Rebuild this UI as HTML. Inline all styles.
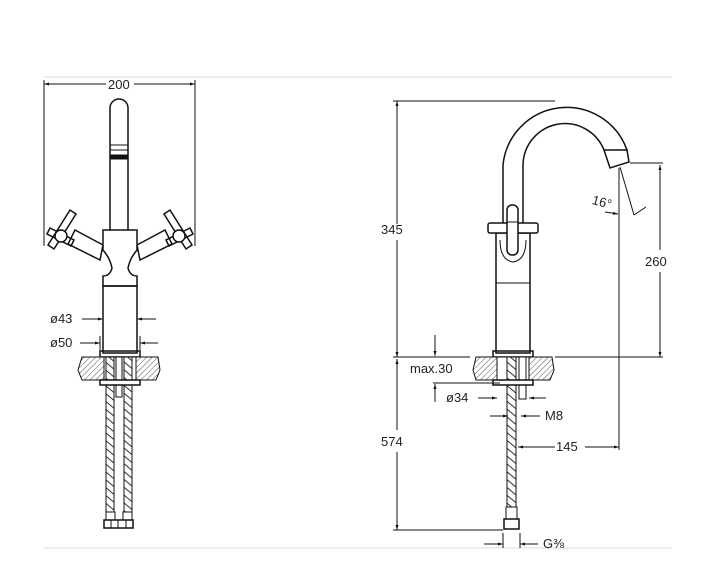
<!DOCTYPE html>
<html><head><style>
body{margin:0;background:#fff}
svg{display:block}
text{font-family:"Liberation Sans",sans-serif;font-size:13px;fill:#222}
</style></head><body>
<svg width="709" height="583" viewBox="0 0 709 583">
<defs>
<pattern id="h" width="4" height="4" patternUnits="userSpaceOnUse" patternTransform="rotate(45)">
<rect width="4" height="4" fill="#fff"/><line x1="0" y1="0" x2="0" y2="4" stroke="#555" stroke-width="1"/></pattern>
<pattern id="tw" width="6" height="6" patternUnits="userSpaceOnUse" patternTransform="rotate(-50)">
<rect width="6" height="6" fill="#fff"/><line x1="0" y1="0" x2="0" y2="6" stroke="#333" stroke-width="2"/></pattern>
<marker id="a" viewBox="0 0 10 10" refX="10" refY="5" markerWidth="7" markerHeight="5" orient="auto-start-reverse"><path d="M0,2 L10,5 L0,8z" fill="#111"/></marker>
</defs>
<line x1="44" y1="77" x2="672" y2="77" stroke="#ddd"/>
<line x1="44" y1="548" x2="672" y2="548" stroke="#ddd"/>
<g stroke="#111" fill="none" stroke-width="1">
<!-- LEFT -->
<line x1="44" y1="84" x2="106" y2="84" marker-start="url(#a)"/>
<line x1="134" y1="84" x2="195" y2="84" marker-end="url(#a)"/>
<line x1="44" y1="80" x2="44" y2="246"/><line x1="195" y1="80" x2="195" y2="246"/>
<path d="M110,232 V108 A9,9 0 0 1 128,108 V232" stroke-width="1.5"/>
<line x1="110" y1="145" x2="128" y2="145"/><line x1="110" y1="150" x2="128" y2="150"/>
<rect x="110" y="155" width="18" height="4" fill="#111"/>
<path d="M103,245 L75,230 L68,244 L100,260 Z" stroke-width="1.5" fill="#fff"/>
<path d="M137,245 L165,230 L172,244 L140,260 Z" stroke-width="1.5" fill="#fff"/>
<path d="M103,230 H137 V250 Q130,258 128,268 Q130,276 137,276 V286 H103 V276 Q110,276 112,268 Q110,258 103,250 Z" stroke-width="1.5" fill="#fff"/>
<rect x="103" y="286" width="34" height="67" stroke-width="1.5"/>
<path d="M48,245 L70,210 L76,214 L54,249 Z" stroke-width="1.5"/>
<path d="M50,228 L74,240 L71,246 L47,234 Z" stroke-width="1.5"/>
<circle cx="61" cy="236" r="6" fill="#fff" stroke-width="1.5"/>
<path d="M192,245 L170,210 L164,214 L186,249 Z" stroke-width="1.5"/>
<path d="M190,228 L166,240 L169,246 L193,234 Z" stroke-width="1.5"/>
<circle cx="179" cy="236" r="6" fill="#fff" stroke-width="1.5"/>
<rect x="100" y="351" width="40" height="6" stroke-width="1.5"/>
<path d="M82,357 H158 L160,370 L156,380 H82 L78,370 Z" fill="url(#h)"/>
<rect x="104" y="357" width="32" height="23" fill="#fff"/>
<rect x="106" y="357" width="8" height="155" fill="url(#tw)"/>
<rect x="124" y="357" width="8" height="155" fill="url(#tw)"/>
<rect x="116" y="357" width="6" height="40"/>
<rect x="100" y="380" width="40" height="5" fill="#fff" stroke-width="1.5"/>
<rect x="106" y="512" width="9" height="8"/><rect x="123" y="512" width="9" height="8"/>
<rect x="104" y="520" width="29" height="8" stroke-width="1.5"/>
<line x1="111" y1="520" x2="111" y2="528"/><line x1="118" y1="520" x2="118" y2="528"/><line x1="126" y1="520" x2="126" y2="528"/>
<line x1="82" y1="319" x2="103" y2="319" marker-end="url(#a)"/>
<line x1="156" y1="319" x2="137" y2="319" marker-end="url(#a)"/>
<line x1="80" y1="343" x2="100" y2="343" marker-end="url(#a)"/>
<line x1="158" y1="343" x2="140" y2="343" marker-end="url(#a)"/>
<line x1="100" y1="336" x2="100" y2="350"/><line x1="140" y1="336" x2="140" y2="350"/>
<!-- RIGHT -->
<line x1="393" y1="101" x2="555" y2="101"/>
<line x1="397" y1="101" x2="397" y2="224" marker-start="url(#a)"/>
<line x1="397" y1="240" x2="397" y2="357" marker-end="url(#a)"/>
<line x1="393" y1="357" x2="470" y2="357"/><line x1="555" y1="357" x2="663" y2="357"/>
<path d="M503,233 V165 A64,64 0 0 1 627,150" stroke-width="1.5"/>
<path d="M523,233 V165 A42,42 0 0 1 604,150" stroke-width="1.5"/>
<path d="M604,150 L627,150 L629,162 L610,168 Z" stroke-width="1.5" fill="#fff"/>
<line x1="630" y1="163" x2="663" y2="163"/>
<line x1="660" y1="165" x2="660" y2="250" marker-start="url(#a)"/>
<line x1="660" y1="272" x2="660" y2="357" marker-end="url(#a)"/>
<line x1="619" y1="168" x2="619" y2="450"/>
<line x1="620" y1="167" x2="634" y2="215"/>
<line x1="634" y1="215" x2="646" y2="207"/>
<path d="M605,212 L618,214" marker-end="url(#a)"/>
<rect x="496" y="233" width="34" height="120" stroke-width="1.5"/>
<line x1="496" y1="283" x2="530" y2="283"/>
<path d="M500,240 Q500,260 513,262 Q526,260 526,240" />
<rect x="488" y="223" width="50" height="10" rx="2" stroke-width="1.5" fill="#fff"/>
<rect x="507" y="205" width="11" height="50" rx="5" stroke-width="1.5" fill="#fff"/>
<line x1="507" y1="222" x2="518" y2="222"/>
<rect x="493" y="351" width="40" height="6" stroke-width="1.5"/>
<path d="M476,357 H552 L554,370 L550,380 H476 L473,370 Z" fill="url(#h)"/>
<rect x="497" y="357" width="32" height="23" fill="#fff"/>
<rect x="507" y="357" width="9" height="150" fill="url(#tw)"/>
<rect x="519" y="357" width="7" height="42"/>
<rect x="493" y="380" width="40" height="5" fill="#fff" stroke-width="1.5"/>
<rect x="506" y="507" width="11" height="12"/>
<rect x="504" y="519" width="15" height="10" stroke-width="1.5"/>
<line x1="435" y1="335" x2="435" y2="356" marker-end="url(#a)"/>
<line x1="435" y1="402" x2="435" y2="384" marker-end="url(#a)"/>
<line x1="433" y1="383" x2="500" y2="383"/>
<line x1="478" y1="398" x2="497" y2="398" marker-end="url(#a)"/>
<line x1="546" y1="398" x2="529" y2="398" marker-end="url(#a)"/>
<line x1="490" y1="416" x2="508" y2="416" marker-end="url(#a)"/>
<line x1="540" y1="416" x2="521" y2="416" marker-end="url(#a)"/>
<line x1="518" y1="447" x2="555" y2="447" marker-start="url(#a)"/>
<line x1="585" y1="447" x2="619" y2="447" marker-end="url(#a)"/>
<line x1="397" y1="359" x2="397" y2="430" marker-start="url(#a)"/>
<line x1="397" y1="452" x2="397" y2="530" marker-end="url(#a)"/>
<line x1="393" y1="530" x2="503" y2="530"/>
<line x1="484" y1="544" x2="503" y2="544" marker-end="url(#a)"/>
<line x1="538" y1="544" x2="520" y2="544" marker-end="url(#a)"/>
<line x1="503" y1="533" x2="503" y2="548"/><line x1="520" y1="533" x2="520" y2="548"/>
</g>
<text x="108" y="89">200</text>
<text x="50" y="323">ø43</text>
<text x="50" y="347">ø50</text>
<text x="381" y="234">345</text>
<text x="645" y="266">260</text>
<text x="592" y="206" transform="rotate(15 600 202)">16°</text>
<text x="410" y="373">max.30</text>
<text x="446" y="402">ø34</text>
<text x="545" y="420">M8</text>
<text x="556" y="451">145</text>
<text x="381" y="446">574</text>
<text x="543" y="548">G⅜</text>
</svg>
</body></html>
